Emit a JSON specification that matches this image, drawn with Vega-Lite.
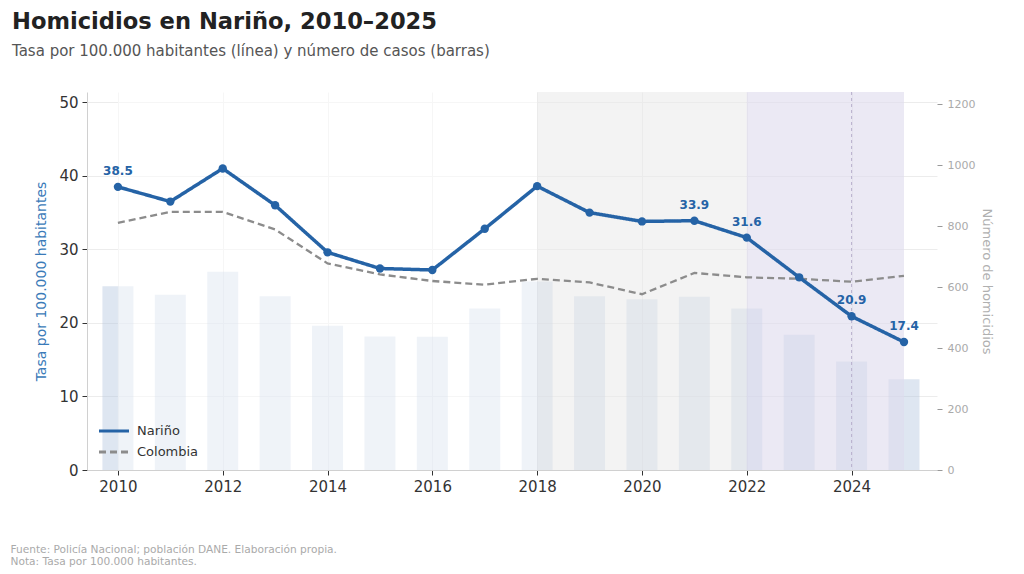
{
  "$schema": "https://vega.github.io/schema/vega-lite/v6.json",
  "description": "Homicidios en Nariño 2010-2025: tasa por 100.000 habitantes (líneas) y número de casos (barras).",
  "width": 850,
  "height": 378,
  "autosize": {"type": "none"},
  "padding": {"left": 87, "top": 92, "right": 87, "bottom": 104},
  "background": "white",
  "title": {
    "text": "Homicidios en Nariño, 2010–2025",
    "subtitle": "Tasa por 100.000 habitantes (línea) y número de casos (barras)",
    "anchor": "start",
    "frame": "group",
    "dx": -75,
    "offset": 33,
    "fontSize": 22.6,
    "fontWeight": "bold",
    "color": "#222222",
    "subtitleFontSize": 15,
    "subtitleColor": "#555555",
    "subtitlePadding": 10
  },
  "datasets": {
    "tasas": [
      {"anio": 2010, "serie": "Nariño", "tasa": 38.5},
      {"anio": 2011, "serie": "Nariño", "tasa": 36.5},
      {"anio": 2012, "serie": "Nariño", "tasa": 41.0},
      {"anio": 2013, "serie": "Nariño", "tasa": 36.0},
      {"anio": 2014, "serie": "Nariño", "tasa": 29.6},
      {"anio": 2015, "serie": "Nariño", "tasa": 27.4},
      {"anio": 2016, "serie": "Nariño", "tasa": 27.2},
      {"anio": 2017, "serie": "Nariño", "tasa": 32.8},
      {"anio": 2018, "serie": "Nariño", "tasa": 38.6},
      {"anio": 2019, "serie": "Nariño", "tasa": 35.0},
      {"anio": 2020, "serie": "Nariño", "tasa": 33.8},
      {"anio": 2021, "serie": "Nariño", "tasa": 33.9},
      {"anio": 2022, "serie": "Nariño", "tasa": 31.6},
      {"anio": 2023, "serie": "Nariño", "tasa": 26.2},
      {"anio": 2024, "serie": "Nariño", "tasa": 20.9},
      {"anio": 2025, "serie": "Nariño", "tasa": 17.4},
      {"anio": 2010, "serie": "Colombia", "tasa": 33.6},
      {"anio": 2011, "serie": "Colombia", "tasa": 35.1},
      {"anio": 2012, "serie": "Colombia", "tasa": 35.1},
      {"anio": 2013, "serie": "Colombia", "tasa": 32.7},
      {"anio": 2014, "serie": "Colombia", "tasa": 28.1},
      {"anio": 2015, "serie": "Colombia", "tasa": 26.6},
      {"anio": 2016, "serie": "Colombia", "tasa": 25.7},
      {"anio": 2017, "serie": "Colombia", "tasa": 25.2},
      {"anio": 2018, "serie": "Colombia", "tasa": 26.0},
      {"anio": 2019, "serie": "Colombia", "tasa": 25.5},
      {"anio": 2020, "serie": "Colombia", "tasa": 23.9},
      {"anio": 2021, "serie": "Colombia", "tasa": 26.8},
      {"anio": 2022, "serie": "Colombia", "tasa": 26.2},
      {"anio": 2023, "serie": "Colombia", "tasa": 26.0},
      {"anio": 2024, "serie": "Colombia", "tasa": 25.6},
      {"anio": 2025, "serie": "Colombia", "tasa": 26.4}
    ],
    "casos": [
      {"anio": 2010, "casos": 603},
      {"anio": 2011, "casos": 575},
      {"anio": 2012, "casos": 650},
      {"anio": 2013, "casos": 570},
      {"anio": 2014, "casos": 473},
      {"anio": 2015, "casos": 438},
      {"anio": 2016, "casos": 437},
      {"anio": 2017, "casos": 530},
      {"anio": 2018, "casos": 618},
      {"anio": 2019, "casos": 570},
      {"anio": 2020, "casos": 560},
      {"anio": 2021, "casos": 568},
      {"anio": 2022, "casos": 530},
      {"anio": 2023, "casos": 444},
      {"anio": 2024, "casos": 356},
      {"anio": 2025, "casos": 298}
    ],
    "periodos": [
      {"periodo": "Santos", "inicio": 2010, "fin": 2018, "centro": 2014},
      {"periodo": "Duque", "inicio": 2018, "fin": 2022, "centro": 2020},
      {"periodo": "Petro", "inicio": 2022, "fin": 2025, "centro": 2023.5}
    ],
    "hitos": [
      {"anio": 2024, "nombre": "Escobar"}
    ]
  },
  "layer": [
    {
      "data": {"name": "casos"},
      "mark": {"type": "bar", "orient": "vertical", "size": 31, "color": "#b0c4de", "opacity": 0.42},
      "encoding": {
        "x": {
          "field": "anio",
          "type": "quantitative",
          "scale": {"domain": [2009.41, 2025.63], "nice": false, "zero": false, "padding": 0},
          "axis": {
            "values": [2010, 2012, 2014, 2016, 2018, 2020, 2022, 2024],
            "format": "d",
            "grid": true,
            "title": ["Fuente: Policía Nacional; población DANE. Elaboración propia.", "Nota: Tasa por 100.000 habitantes."],
            "titleX": -77,
            "titleY": 74,
            "titleAlign": "left",
            "titleBaseline": "top",
            "titleAngle": 0,
            "titleFontSize": 10.6,
            "titleFontWeight": "normal",
            "titleColor": "#aaaaaa",
            "titleLineHeight": 12
          }
        },
        "y": {
          "field": "casos",
          "type": "quantitative",
          "scale": {"domain": [0, 1240], "nice": false},
          "axis": {
            "orient": "right",
            "title": "Número de homicidios",
            "values": [0, 200, 400, 600, 800, 1000, 1200],
            "format": "d",
            "grid": false,
            "domain": false,
            "tickColor": "#999999",
            "tickSize": 5,
            "labelColor": "#aaaaaa",
            "labelFontSize": 11,
            "labelPadding": 5,
            "titleColor": "#b0b0b0",
            "titleFontSize": 13,
            "titleFontWeight": "normal",
            "titlePadding": 5
          }
        }
      }
    },
    {
      "data": {"name": "periodos"},
      "mark": {"type": "rect"},
      "encoding": {
        "x": {
          "field": "inicio",
          "type": "quantitative",
          "scale": {"domain": [2009.41, 2025.63], "nice": false, "zero": false, "padding": 0},
          "axis": {
            "values": [2010, 2012, 2014, 2016, 2018, 2020, 2022, 2024],
            "format": "d",
            "grid": true,
            "title": ["Fuente: Policía Nacional; población DANE. Elaboración propia.", "Nota: Tasa por 100.000 habitantes."],
            "titleX": -77,
            "titleY": 74,
            "titleAlign": "left",
            "titleBaseline": "top",
            "titleAngle": 0,
            "titleFontSize": 10.6,
            "titleFontWeight": "normal",
            "titleColor": "#aaaaaa",
            "titleLineHeight": 12
          }
        },
        "x2": {"field": "fin"},
        "fill": {
          "field": "periodo",
          "type": "nominal",
          "scale": {"domain": ["Santos", "Duque", "Petro"], "range": ["#ffffff", "#eaeaea", "#dfdcee"]},
          "legend": null
        },
        "fillOpacity": {
          "field": "periodo",
          "type": "nominal",
          "scale": {"domain": ["Santos", "Duque", "Petro"], "range": [0.5, 0.62, 0.6]},
          "legend": null
        }
      }
    },
    {
      "data": {"name": "hitos"},
      "mark": {"type": "rule", "color": "#b3abc9", "strokeDash": [3, 3], "strokeWidth": 0.9},
      "encoding": {
        "x": {
          "field": "anio",
          "type": "quantitative",
          "scale": {"domain": [2009.41, 2025.63], "nice": false, "zero": false, "padding": 0},
          "axis": {
            "values": [2010, 2012, 2014, 2016, 2018, 2020, 2022, 2024],
            "format": "d",
            "grid": true,
            "title": ["Fuente: Policía Nacional; población DANE. Elaboración propia.", "Nota: Tasa por 100.000 habitantes."],
            "titleX": -77,
            "titleY": 74,
            "titleAlign": "left",
            "titleBaseline": "top",
            "titleAngle": 0,
            "titleFontSize": 10.6,
            "titleFontWeight": "normal",
            "titleColor": "#aaaaaa",
            "titleLineHeight": 12
          }
        }
      }
    },
    {
      "encoding": {
        "x": {
          "field": "anio",
          "type": "quantitative",
          "scale": {"domain": [2009.41, 2025.63], "nice": false, "zero": false, "padding": 0},
          "axis": {
            "values": [2010, 2012, 2014, 2016, 2018, 2020, 2022, 2024],
            "format": "d",
            "grid": true,
            "title": ["Fuente: Policía Nacional; población DANE. Elaboración propia.", "Nota: Tasa por 100.000 habitantes."],
            "titleX": -77,
            "titleY": 74,
            "titleAlign": "left",
            "titleBaseline": "top",
            "titleAngle": 0,
            "titleFontSize": 10.6,
            "titleFontWeight": "normal",
            "titleColor": "#aaaaaa",
            "titleLineHeight": 12
          }
        },
        "y": {
          "field": "tasa",
          "type": "quantitative",
          "scale": {"domain": [0, 51.4], "nice": false},
          "axis": {
            "orient": "left",
            "title": "Tasa por 100.000 habitantes",
            "values": [0, 10, 20, 30, 40, 50],
            "grid": true,
            "titleColor": "#3a7ab8",
            "titleFontSize": 14,
            "titleFontWeight": "normal",
            "titlePadding": 10
          }
        }
      },
      "layer": [
        {
          "data": {"name": "tasas"},
          "transform": [{"filter": "datum.serie === 'Colombia'"}],
          "mark": {"type": "line", "strokeWidth": 2.3},
          "encoding": {
            "color": {"datum": "Colombia", "type": "nominal", "scale": {"domain": ["Nariño", "Colombia"], "range": ["#2563a6", "#8c8c8c"]}, "title": null},
            "strokeDash": {"datum": "Colombia", "type": "nominal", "scale": {"domain": ["Nariño", "Colombia"], "range": [[1, 0], [7, 4]]}, "title": null}
          }
        },
        {
          "data": {"name": "tasas"},
          "transform": [{"filter": "datum.serie === 'Nariño'"}],
          "mark": {"type": "line", "strokeWidth": 3.5},
          "encoding": {
            "color": {"datum": "Nariño", "type": "nominal", "title": null},
            "strokeDash": {"datum": "Nariño", "type": "nominal", "title": null}
          }
        },
        {
          "data": {"name": "tasas"},
          "transform": [{"filter": "datum.serie === 'Nariño'"}],
          "mark": {"type": "point", "filled": true, "size": 70, "color": "#2563a6", "opacity": 1}
        },
        {
          "data": {"name": "tasas"},
          "transform": [
            {"filter": "datum.serie === 'Nariño'"},
            {"filter": {"field": "anio", "oneOf": [2010, 2021, 2022, 2024, 2025]}}
          ],
          "mark": {"type": "text", "dy": -16, "fontSize": 12, "fontWeight": "bold", "color": "#2563a6"},
          "encoding": {
            "text": {"field": "tasa", "type": "quantitative", "format": ".1f"}
          }
        },
        {
          "data": {"name": "periodos"},
          "mark": {"type": "text", "fontSize": 11, "color": "#7a7a7a", "baseline": "middle"},
          "encoding": {
            "x": {"field": "centro", "type": "quantitative"},
            "y": {"datum": 48.9, "type": "quantitative"},
            "text": {"field": "periodo", "type": "nominal"}
          }
        },
        {
          "data": {"name": "hitos"},
          "mark": {"type": "text", "fontSize": 11, "color": "#716896", "align": "left", "dx": 5, "baseline": "middle"},
          "encoding": {
            "y": {"datum": 45.1, "type": "quantitative"},
            "text": {"field": "nombre", "type": "nominal"}
          }
        }
      ]
    }
  ],
  "resolve": {"scale": {"y": "independent"}, "axis": {"y": "independent"}},
  "config": {
    "font": "DejaVu Sans",
    "view": {"stroke": null},
    "axis": {
      "domainColor": "#d0d0d0",
      "tickColor": "#333333",
      "tickSize": 5,
      "labelColor": "#333333",
      "labelFontSize": 15,
      "labelPadding": 4,
      "gridColor": "#ececec",
      "gridWidth": 1
    },
    "legend": {
      "orient": "none",
      "legendX": 18,
      "legendY": 330,
      "symbolType": "M-2,0H2",
      "symbolSize": 225,
      "symbolStrokeWidth": 3,
      "labelFontSize": 13,
      "labelColor": "#333333",
      "rowPadding": 5,
      "labelOffset": 14
    }
  }
}
